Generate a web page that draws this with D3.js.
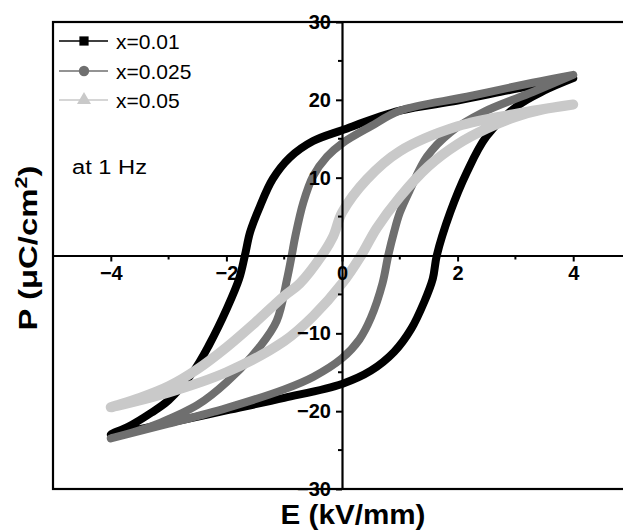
<!DOCTYPE html>
<html>
<head>
<meta charset="utf-8">
<script src="https://cdn.jsdelivr.net/npm/d3@7"></script>
<style>
  body { margin: 0; background: #fff; }
  text { font-family: "Liberation Sans", Arial, sans-serif; }
</style>
</head>
<body>
<script>
// series names and colours
var seriesNames = ["x=0.01", "x=0.025", "x=0.05"];
var seriesColors = ["#000000", "#6f6f6f", "#c9c9c9"];

// hysteresis loops, [E (kV/mm), P (uC/cm2)]
// upper branch: E going from +4 down to -4
var upper001 = [[4, 22.8], [3, 21.4], [2, 19.9], [1, 18.6], [0, 16.1], [-0.5, 14.7], [-0.9, 12.6], [-1.2, 9.8],
  [-1.42, 6.3], [-1.59, 3.0], [-1.68, 0], [-1.78, -3.0], [-1.99, -6.8], [-2.3, -11.5], [-2.58, -15],
  [-3.0, -18.6], [-3.3, -20.2], [-3.7, -22], [-4, -23.0]];
// lower branch: E going from -4 up to +4
var lower001 = [[-4, -23.0], [-3, -21.5], [-2, -19.9], [-1, -18.3], [0, -16.5], [0.5, -14.8], [0.9, -12.4],
  [1.2, -9.4], [1.42, -6.0], [1.57, -3.0], [1.64, 0], [1.87, 5.5], [2.16, 10.7], [2.5, 15.3], [3.03, 19.2],
  [3.5, 21.2], [4, 22.8]];

var upper0025 = [[4, 23.2], [3.3, 22.2], [2.16, 20.4], [1, 18.6], [0.5, 16.6], [0, 14.4], [-0.26, 12.7],
  [-0.5, 10.2], [-0.67, 6.8], [-0.81, 2.4], [-0.87, 0], [-0.95, -3.0], [-1.13, -8.4], [-1.42, -11.7],
  [-2.0, -16.3], [-2.5, -19.2], [-3.15, -21.5], [-3.6, -22.7], [-4, -23.5]];
var lower0025 = [[-4, -23.5], [-3, -21.6], [-2, -19.6], [-1, -17.2], [-0.5, -15.6], [0, -13.2], [0.3, -10.8],
  [0.5, -8.0], [0.7, -3.6], [0.8, 0], [0.9, 3.0], [1.0, 5.5], [1.18, 8.5], [1.47, 12.7], [1.87, 15.8],
  [2.44, 18.4], [3.3, 21.0], [4, 23.2]];

var upper005 = [[4, 19.4], [3, 18.2], [2, 16.6], [1, 13.4], [0.43, 9.8], [0, 5.5], [-0.15, 2.5], [-0.35, 0],
  [-0.73, -3.6], [-1, -5.2], [-1.5, -8.6], [-2, -11.8], [-2.5, -14.6], [-3, -16.8], [-3.5, -18.3], [-4, -19.5]];
var lower005 = [[-4, -19.5], [-3, -17.6], [-2, -15.0], [-1, -11.0], [-0.5, -7.8], [0, -3.6], [0.33, 0],
  [0.6, 3.5], [1, 7.5], [1.5, 11.5], [2, 14.3], [2.5, 16.3], [3, 17.8], [3.5, 18.8], [4, 19.4]];

var loops = [upper001.concat(lower001.slice(1)), upper0025.concat(lower0025.slice(1)), upper005.concat(lower005.slice(1))];
var strokeWidths = [8, 8, 10];

// tick values
var xMajor = [-4, -2, 0, 2, 4];
var xMinor = [-5, -3, -1, 1, 3, 5];
var yMajor = [-30, -20, -10, 10, 20, 30];
var yMinor = [-25, -15, -5, 5, 15, 25];

var width = 623, height = 532;

var svg = d3.select("body").append("svg")
    .attr("width", width)
    .attr("height", height);

var x = d3.scaleLinear().domain([-5, 5]).range([53, 631]);
var y = d3.scaleLinear().domain([-30, 30]).range([489, 22]);

// frame
svg.append("rect")
    .attr("x", x(-5)).attr("y", y(30))
    .attr("width", x(5) - x(-5)).attr("height", y(-30) - y(30))
    .attr("fill", "none").attr("stroke", "#000").attr("stroke-width", 2.2);

// loops
var line = d3.line()
    .x(function(d) { return x(d[0]); })
    .y(function(d) { return y(d[1]); })
    .curve(d3.curveCatmullRom.alpha(0.5));

loops.forEach(function(loop, i) {
  svg.append("path")
      .datum(loop)
      .attr("d", line)
      .attr("fill", "none")
      .attr("stroke", seriesColors[i])
      .attr("stroke-width", strokeWidths[i])
      .attr("stroke-linejoin", "round")
      .attr("stroke-linecap", "round");
});

// x axis through the origin
var xAxis = svg.append("g")
    .attr("transform", "translate(0," + y(0) + ")")
    .call(d3.axisBottom(x).tickValues(xMajor).tickSize(6).tickSizeOuter(0).tickFormat(d3.format("d")));
svg.append("g")
    .attr("transform", "translate(0," + y(0) + ")")
    .selectAll("line").data(xMinor).enter().append("line")
    .attr("x1", function(d) { return x(d); }).attr("x2", function(d) { return x(d); })
    .attr("y1", 0).attr("y2", 4)
    .attr("stroke", "#000").attr("stroke-width", 2);

// y axis through the origin
var yAxis = svg.append("g")
    .attr("transform", "translate(" + x(0) + ",0)")
    .call(d3.axisLeft(y).tickValues(yMajor).tickSize(6).tickSizeOuter(0).tickFormat(d3.format("d")));
svg.append("g")
    .attr("transform", "translate(" + x(0) + ",0)")
    .selectAll("line").data(yMinor).enter().append("line")
    .attr("y1", function(d) { return y(d); }).attr("y2", function(d) { return y(d); })
    .attr("x1", 0).attr("x2", -4)
    .attr("stroke", "#000").attr("stroke-width", 2);

[xAxis, yAxis].forEach(function(g) {
  g.select(".domain").attr("stroke-width", 2.2);
  g.selectAll(".tick line").attr("stroke-width", 2);
  g.selectAll(".tick text")
      .attr("font-size", 20)
      .attr("font-weight", "bold")
      .attr("fill", "#000")
      .style("font-family", "'Liberation Sans', Arial, sans-serif");
});
xAxis.selectAll(".tick text").attr("y", 10);
yAxis.selectAll(".tick text").attr("x", -11);

// axis titles
svg.append("text")
    .attr("x", x(0) + 11).attr("y", 524)
    .attr("text-anchor", "middle")
    .attr("font-size", 27).attr("font-weight", "bold")
    .attr("textLength", 145).attr("lengthAdjust", "spacingAndGlyphs")
    .text("E (kV/mm)");

var yTitle = svg.append("text")
    .attr("transform", "translate(37,248) rotate(-90)")
    .attr("text-anchor", "middle")
    .attr("font-size", 26).attr("font-weight", "bold")
    .attr("textLength", 165).attr("lengthAdjust", "spacingAndGlyphs");
yTitle.append("tspan").text("P (\u03bcC/cm");
yTitle.append("tspan").attr("dy", -10).attr("font-size", 17).text("2");
yTitle.append("tspan").attr("dy", 10).text(")");

// legend
var legend = svg.append("g");
var legendRows = [41, 71, 100];
seriesNames.forEach(function(name, i) {
  var ly = legendRows[i];
  legend.append("line")
      .attr("x1", 59).attr("x2", 108).attr("y1", ly).attr("y2", ly)
      .attr("stroke", seriesColors[i]).attr("stroke-width", 1.3);
  var sym = [d3.symbolSquare, d3.symbolCircle, d3.symbolTriangle][i];
  legend.append("path")
      .attr("transform", "translate(84," + ly + ")")
      .attr("d", d3.symbol().type(sym).size(85))
      .attr("fill", seriesColors[i]);
  legend.append("text")
      .attr("x", 116).attr("y", ly + 8)
      .attr("font-size", 21)
      .text(name);
});

svg.append("text")
    .attr("x", 72).attr("y", 174)
    .attr("font-size", 20)
    .attr("textLength", 75).attr("lengthAdjust", "spacingAndGlyphs")
    .text("at 1 Hz");
</script>
</body>
</html>
